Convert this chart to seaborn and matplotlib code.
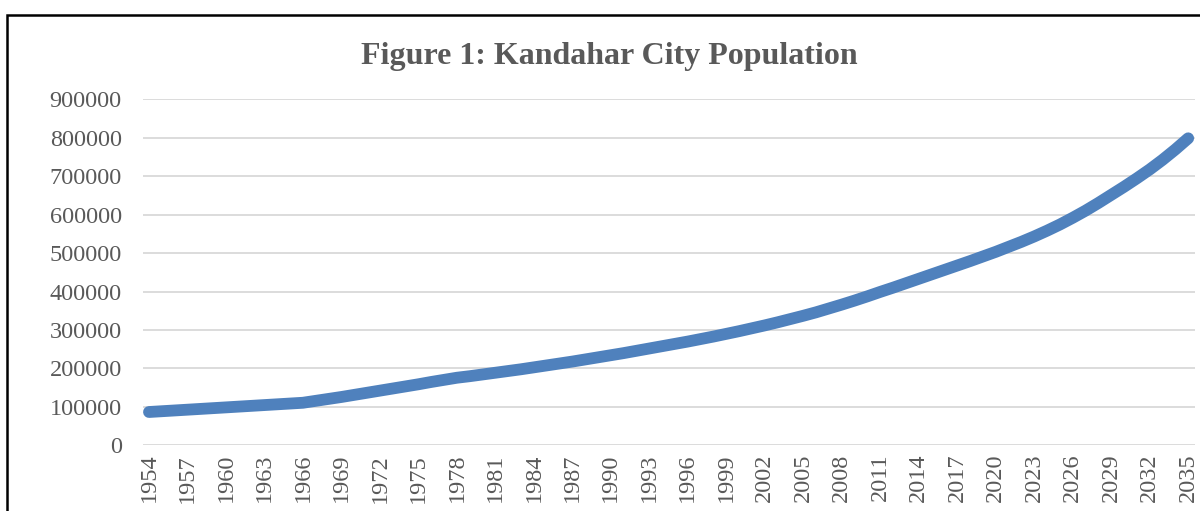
import matplotlib
matplotlib.use("Agg")
import matplotlib.pyplot as plt
from matplotlib.patches import Rectangle
import seaborn as sns
import pandas as pd

years = list(range(1954, 2036))
population = [
    87000, 89000, 91000, 93000, 95000, 97000, 99000, 101000, 103000, 105000,
    107000, 109000, 111000, 116000, 121000, 126000, 131500, 137000, 142500, 148000,
    153500, 159000, 165000, 170500, 176000, 180000, 184500, 189000, 193500, 198000,
    203000, 208000, 213000, 218000, 223500, 229000, 234500, 240000, 246000, 252000,
    258000, 264000, 270000, 276500, 283000, 290000, 297000, 304500, 312000, 320000,
    328500, 337000, 346000, 356000, 366000, 376500, 387500, 399000, 410000, 421500,
    433000, 444500, 456000, 467500, 479000, 491000, 503000, 516000, 529000, 543000,
    558000, 574000, 591500, 610000, 630000, 651000, 672000, 694000, 717000, 742000,
    769000, 798000,
]
tick_years = list(range(1954, 2036, 3))
y_ticks = list(range(0, 900001, 100000))
title = "Figure 1: Kandahar City Population"

df = pd.DataFrame({"Year": years, "Population": population})

sns.set_theme(style="white")
plt.rcParams["font.family"] = ["Liberation Serif", "DejaVu Serif"]

fig = plt.figure(figsize=(12, 5.11), dpi=100)
ax = fig.add_axes([0.1188, 0.1282, 0.8767, 0.678])

sns.lineplot(data=df, x="Year", y="Population", ax=ax, color="#4F81BD",
             linewidth=8.5, solid_capstyle="round", solid_joinstyle="round", zorder=3)

ax.set_xlim(1953.5, 2035.5)
ax.set_ylim(0, 900000)
ax.set_yticks(y_ticks)
ax.set_yticklabels([str(v) for v in y_ticks])
ax.set_xticks(tick_years)
ax.set_xticklabels([str(y) for y in tick_years], rotation=90)
ax.yaxis.grid(True, color="#D9D9D9", linewidth=1.3, zorder=0)
ax.xaxis.grid(False)
for s in ax.spines.values():
    s.set_visible(False)
ax.tick_params(axis="y", length=0, pad=15, labelsize=17.5, labelcolor="#595959")
ax.tick_params(axis="x", length=0, pad=6, labelsize=17.5, labelcolor="#595959")
ax.set_xlabel("")
ax.set_ylabel("")

fig.text(0.508, 0.889, title, ha="center", va="center", fontsize=23,
         fontweight="bold", color="#595959")

fig.patches.append(Rectangle((0.0058, -0.1), 1.2, 0.9706 + 0.1,
                             transform=fig.transFigure, fill=False,
                             edgecolor="black", linewidth=1.8, zorder=10))

fig.savefig("out.png", dpi=100)
